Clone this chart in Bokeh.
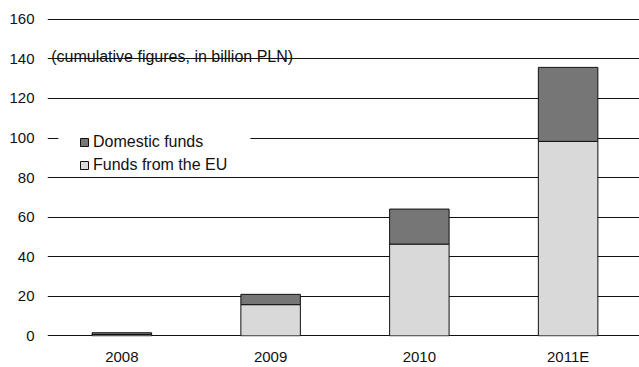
from bokeh.plotting import figure
from bokeh.models import (ColumnDataSource, FixedTicker, Legend, LegendItem,
                          BoxAnnotation, Label)
from bokeh.embed import file_html
from bokeh.resources import INLINE

# ---- data ----
categories = ["2008", "2009", "2010", "2011E"]
eu_funds = [0.7, 15.8, 46.4, 98.3]
domestic_funds = [0.9, 5.2, 17.7, 37.4]
y_ticks = [0, 20, 40, 60, 80, 100, 120, 140, 160]

xs = list(range(len(categories)))
source = ColumnDataSource(dict(x=xs, eu=eu_funds, dom=domestic_funds))

FONT = "Liberation Sans"

p = figure(width=639, height=367, output_backend="svg", toolbar_location=None,
           x_range=(-0.5, 3.48), y_range=(-0.3, 160.4),
           min_border_left=47, min_border_right=0, min_border_top=18,
           min_border_bottom=31)
p.outline_line_color = None
p.background_fill_color = "white"
p.border_fill_color = "white"

# grid
p.xgrid.grid_line_color = None
p.ygrid.grid_line_color = "#111111"
p.ygrid.grid_line_width = 1
p.yaxis.ticker = FixedTicker(ticks=y_ticks)
p.xaxis.ticker = FixedTicker(ticks=xs)
p.xaxis.major_label_overrides = {i: c for i, c in zip(xs, categories)}

for ax in (p.xaxis, p.yaxis):
    ax.axis_line_color = None
    ax.major_tick_line_color = None
    ax.minor_tick_line_color = None
    ax.major_tick_out = 0
    ax.major_tick_in = 0
    ax.major_label_text_font = FONT
    ax.major_label_text_font_size = "15px"
    ax.major_label_text_color = "#111111"
p.yaxis.major_label_standoff = 13
p.xaxis.major_label_standoff = 11

rs = p.vbar_stack(["eu", "dom"], x="x", width=0.4, source=source,
                  color=["#d9d9d9", "#767676"], line_color="#111111",
                  line_width=1)
for r in rs:
    r.glyph.line_color = "#111111"

# blank the gridline behind the legend
p.add_layout(BoxAnnotation(left=-0.427, right=0.864, bottom=94, top=106,
                           fill_color="white", fill_alpha=1.0,
                           line_color=None))

legend = Legend(items=[LegendItem(label="Domestic funds", renderers=[rs[1]]),
                       LegendItem(label="Funds from the EU", renderers=[rs[0]])],
                location=(32, 161), padding=0, margin=0, spacing=3,
                glyph_width=10, glyph_height=10, label_standoff=4,
                label_height=20, label_text_font=FONT,
                label_text_font_size="16px", label_text_color="#111111",
                background_fill_alpha=0, border_line_color=None)
p.add_layout(legend)

p.add_layout(Label(x=-0.475, y=141, text="(cumulative figures, in billion PLN)",
                   text_font=FONT, text_font_size="16px",
                   text_color="#111111", text_baseline="alphabetic"))

open("out.html", "w").write(file_html(p, INLINE))
